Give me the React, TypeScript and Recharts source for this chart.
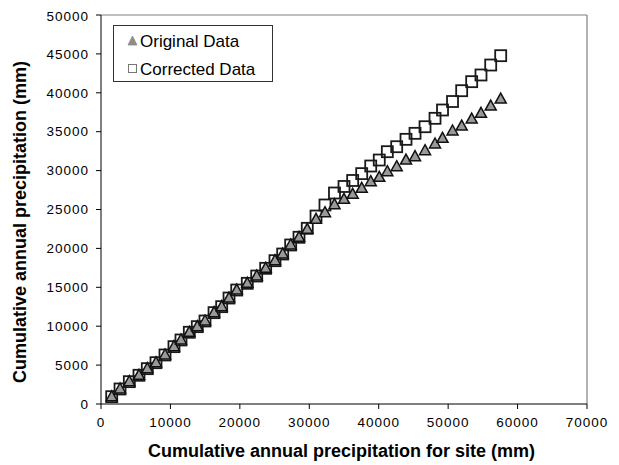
import React from "react";
import {
  ScatterChart,
  Scatter,
  XAxis,
  YAxis,
  ReferenceLine,
  Legend,
} from "recharts";

const siteX = [
  1540, 2740, 4080, 5470, 6670, 7920, 9220, 10510, 11520, 12720, 13870, 14980,
  16280, 17380, 18440, 19550, 21070, 22430, 23720, 25060, 26170, 27320, 28520,
  29710, 30970, 32260, 33630, 35000, 36250, 37550, 38850, 40080, 41240, 42590,
  43930, 45230, 46670, 48110, 49190, 50630, 51950, 53390, 54730, 56130, 57570,
];

const originalY = [
  940, 1930, 2870, 3690, 4540, 5310, 6300, 7370, 8230, 9220, 9940, 10670, 11740,
  12510, 13620, 14650, 15510, 16450, 17440, 18420, 19280, 20440, 21430, 22450,
  23740, 24590, 25620, 26310, 26950, 27720, 28570, 29140, 29860, 30500, 31360,
  31790, 32560, 33420, 34150, 35090, 35730, 36630, 37360, 38300, 39200,
];

const correctedY = [
  940, 1930, 2870, 3690, 4540, 5310, 6300, 7370, 8230, 9220, 9940, 10670, 11740,
  12510, 13620, 14650, 15510, 16450, 17440, 18420, 19280, 20440, 21430, 22580,
  24160, 25580, 27120, 27960, 28730, 29610, 30590, 31360, 32430, 33070, 34020,
  34790, 35640, 36720, 37790, 38880, 40270, 41430, 42290, 43570, 44770,
];

const xTicks = [0, 10000, 20000, 30000, 40000, 50000, 60000, 70000];
const yTicks = [0, 5000, 10000, 15000, 20000, 25000, 30000, 35000, 40000, 45000, 50000];

const seriesNames = ["Original Data", "Corrected Data"];
const xTitle = "Cumulative annual precipitation for site (mm)";
const yTitle = "Cumulative annual precipitation (mm)";

const originalData = siteX.map((x, i) => ({ x, y: originalY[i] }));
const correctedData = siteX.map((x, i) => ({ x, y: correctedY[i] }));

const FONT = "'Liberation Sans', Arial, sans-serif";

const TriangleShape = (p: any) => {
  const { cx, cy } = p;
  if (cx == null || cy == null) return null;
  return (
    <polygon
      points={`${cx},${cy - 6} ${cx + 5.5},${cy + 4} ${cx - 5.5},${cy + 4}`}
      fill="#999999"
      stroke="#111111"
      strokeWidth={1.5}
      strokeLinejoin="miter"
    />
  );
};

const SquareShape = (p: any) => {
  const { cx, cy } = p;
  if (cx == null || cy == null) return null;
  return (
    <rect
      x={cx - 5.5}
      y={cy - 5.5}
      width={11}
      height={11}
      fill="none"
      stroke="#1a1a1a"
      strokeWidth={1.8}
    />
  );
};

const LegendBox = () => (
  <div
    style={{
      width: 160,
      height: 57,
      boxSizing: "border-box",
      border: "1px solid #333",
      background: "#fff",
      fontFamily: FONT,
      fontSize: 17,
      color: "#000",
      position: "relative",
    }}
  >
    <svg width={14} height={14} style={{ position: "absolute", left: 12, top: 8 }}>
      <polygon points="6.5,2 11,11 2,11" fill="#8c8c8c" stroke="#8c8c8c" strokeWidth={0.8} />
    </svg>
    <span style={{ position: "absolute", left: 26, top: 6, lineHeight: "19px", whiteSpace: "nowrap" }}>
      {seriesNames[0]}
    </span>
    <svg width={14} height={14} style={{ position: "absolute", left: 12, top: 36 }}>
      <rect x={2.5} y={2.5} width={8} height={8} fill="none" stroke="#777" strokeWidth={1} />
    </svg>
    <span style={{ position: "absolute", left: 26, top: 34, lineHeight: "19px", whiteSpace: "nowrap" }}>
      {seriesNames[1]}
    </span>
  </div>
);

const XTitleLabel = () => (
  <text
    x={333.5}
    y={443}
    textAnchor="middle"
    dominantBaseline="central"
    fontFamily={FONT}
    fontWeight="bold"
    fontSize={18}
    fill="#000"
  >
    {xTitle}
  </text>
);

const YTitleLabel = () => {
  const cx = 11.5;
  const cy = 214;
  return (
    <text
      x={cx}
      y={cy}
      transform={`rotate(-90, ${cx}, ${cy})`}
      textAnchor="middle"
      dominantBaseline="central"
      fontFamily={FONT}
      fontWeight="bold"
      fontSize={18}
      fill="#000"
    >
      {yTitle}
    </text>
  );
};

const tickStyle = { fill: "#000", fontSize: 13.5, fontFamily: FONT, letterSpacing: 1 };

export default function App() {
  return (
    <div style={{ width: 611, height: 457, background: "#fff" }}>
      <ScatterChart
        width={611}
        height={457}
        margin={{ top: 7, right: 32, bottom: 0, left: 0 }}
        style={{ fontFamily: FONT }}
      >
        <XAxis
          type="number"
          dataKey="x"
          domain={[0, 70000]}
          ticks={xTicks}
          allowDataOverflow
          height={61}
          tickSize={5}
          tickMargin={8}
          stroke="#000"
          tick={tickStyle}
          label={<XTitleLabel />}
        />
        <YAxis
          type="number"
          dataKey="y"
          domain={[0, 50000]}
          ticks={yTicks}
          allowDataOverflow
          width={93}
          tickSize={5}
          tickMargin={7}
          stroke="#000"
          tick={tickStyle}
          label={<YTitleLabel />}
        />
        <ReferenceLine y={50000} stroke="#808080" strokeWidth={1.2} />
        <ReferenceLine x={70000} stroke="#808080" strokeWidth={1.2} />
        <Legend
          layout="vertical"
          align="center"
          verticalAlign="middle"
          content={<LegendBox />}
          wrapperStyle={{ left: 105, top: 17, width: 160, height: 57 }}
        />
        <Scatter
          name={seriesNames[1]}
          data={correctedData}
          shape={<SquareShape />}
          isAnimationActive={false}
        />
        <Scatter
          name={seriesNames[0]}
          data={originalData}
          shape={<TriangleShape />}
          isAnimationActive={false}
        />
      </ScatterChart>
    </div>
  );
}
